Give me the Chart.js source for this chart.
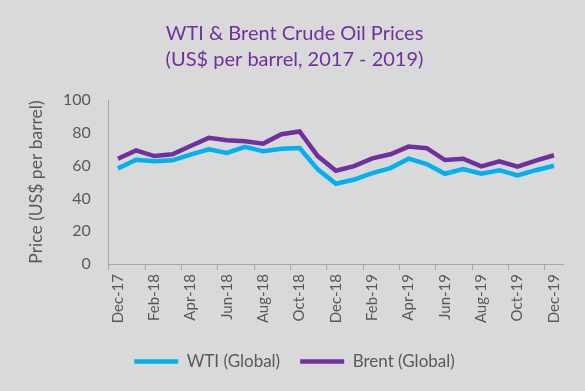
<!DOCTYPE html>
<html>
<head>
<meta charset="utf-8">
<script src="https://cdn.jsdelivr.net/npm/chart.js@4"></script>
<style>
  html, body { margin: 0; padding: 0; background: #d9d9d9; }
  #wrap { width: 585px; height: 391px; }
</style>
</head>
<body>
<div id="wrap"><canvas id="oilChart"></canvas></div>
<script>
// monthly averages, Dec 2017 - Dec 2019
var months = ['Dec-17', 'Jan-18', 'Feb-18', 'Mar-18', 'Apr-18', 'May-18', 'Jun-18', 'Jul-18',
    'Aug-18', 'Sep-18', 'Oct-18', 'Nov-18', 'Dec-18', 'Jan-19', 'Feb-19', 'Mar-19', 'Apr-19',
    'May-19', 'Jun-19', 'Jul-19', 'Aug-19', 'Sep-19', 'Oct-19', 'Nov-19', 'Dec-19'];

var wti = [58.3, 63.6, 62.6, 63.2, 66.7, 69.9, 67.7, 71.4, 68.7, 70.3, 70.7, 57.7, 48.9,
    51.5, 55.4, 58.5, 64.2, 60.9, 55.0, 57.9, 55.0, 57.2, 54.0, 57.2, 59.9];

var brent = [64.2, 69.3, 65.8, 66.9, 72.0, 76.9, 75.5, 74.8, 73.4, 79.1, 80.8, 65.8, 56.9,
    59.7, 64.4, 66.9, 71.6, 70.6, 63.4, 64.2, 59.5, 62.6, 59.3, 63.0, 66.3];

var yTicks = [0, 20, 40, 60, 80, 100];

var textGrey = '#595959';
var font = 'Lato, "Open Sans", sans-serif';

var ctx = document.getElementById('oilChart');

var oilChart = new Chart(ctx, {
    type: 'line',
    data: {
        labels: months,
        datasets: [{
            label: 'WTI (Global)',
            data: wti,
            borderColor: '#00b0f0',
            backgroundColor: '#00b0f0',
            borderWidth: 4.5,
            pointRadius: 0,
            pointStyle: 'line',
            tension: 0
        }, {
            label: 'Brent (Global)',
            data: brent,
            borderColor: '#7030a0',
            backgroundColor: '#7030a0',
            borderWidth: 4.5,
            pointRadius: 0,
            pointStyle: 'line',
            tension: 0
        }]
    },
    options: {
        responsive: true,
        maintainAspectRatio: false,
        animation: false,
        layout: { padding: { left: 26, right: 22, top: 0, bottom: 11 } },
        plugins: {
            title: {
                display: true,
                text: ['WTI & Brent Crude Oil Prices', '(US$ per barrel, 2017 - 2019)'],
                color: '#7030a0',
                font: { family: font, size: 20, weight: 'normal', lineHeight: 1.3 },
                padding: { top: 21, bottom: 27 }
            },
            legend: {
                position: 'bottom',
                labels: {
                    color: textGrey,
                    font: { family: font, size: 17 },
                    usePointStyle: true,
                    pointStyleWidth: 44,
                    padding: 20
                }
            },
            tooltip: { enabled: false }
        },
        scales: {
            x: {
                offset: true,
                border: { color: '#a6a6a6', width: 1 },
                grid: {
                    offset: true,
                    drawOnChartArea: false,
                    tickLength: 6,
                    color: function (c) { return c.index % 2 === 0 ? '#a6a6a6' : 'rgba(0,0,0,0)'; }
                },
                ticks: {
                    color: textGrey,
                    font: { family: font, size: 15 },
                    minRotation: 90,
                    maxRotation: 90,
                    autoSkip: false,
                    padding: 4,
                    callback: function (v, i) { return i % 2 === 0 ? months[i] : ''; }
                },
                afterFit: function (axis) { axis.height = 69; }
            },
            y: {
                min: 0,
                max: 100,
                afterBuildTicks: function (axis) {
                    axis.ticks = yTicks.map(function (v) { return { value: v }; });
                },
                border: { color: '#a6a6a6', width: 1 },
                grid: { display: false },
                ticks: {
                    color: textGrey,
                    font: { family: font, size: 16 },
                    padding: 10
                },
                title: {
                    display: true,
                    text: 'Price (US$ per barrel)',
                    color: textGrey,
                    font: { family: font, size: 17.5 },
                    padding: { top: 0, bottom: 6 }
                }
            }
        }
    }
});
</script>
</body>
</html>
